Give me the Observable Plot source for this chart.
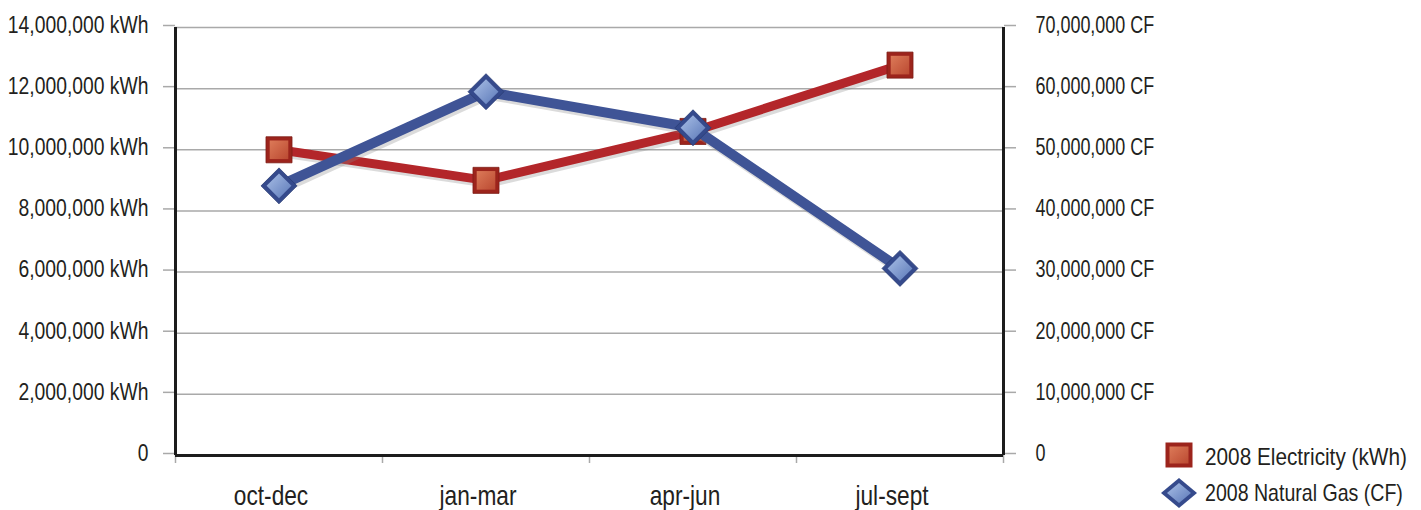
<!DOCTYPE html>
<html>
<head>
<meta charset="utf-8">
<script src="https://cdn.jsdelivr.net/npm/d3@7"></script>
<script src="https://cdn.jsdelivr.net/npm/@observablehq/plot@0.6"></script>
<style>
  html, body { margin: 0; padding: 0; background: #fff; }
  #wrap { position: relative; width: 1421px; height: 510px; font-family: "Liberation Sans", Arial, sans-serif; color: #231f20; }
  .legend-icon { position: absolute; width: 40px; height: 40px; }
  .legend-text { position: absolute; left: 1205px; font-size: 24px; line-height: 1; white-space: nowrap;
                 transform-origin: left center; }
</style>
</head>
<body>
<div id="wrap"></div>
<script>
// Quarterly energy use, 2008
const categories = ["oct-dec", "jan-mar", "apr-jun", "jul-sept"];
const electricityKWh = [10000000, 9000000, 10600000, 12770000];
const naturalGasCF = [44100000, 59500000, 53600000, 30600000];
const kwhTicks = [0, 2000000, 4000000, 6000000, 8000000, 10000000, 12000000, 14000000];
const cfPerKwhTick = 5; // right axis: 70,000,000 CF lines up with 14,000,000 kWh
const seriesNames = ["2008 Electricity (kWh)", "2008 Natural Gas (CF)"];

const rows = categories.map((c, i) => ({
  quarter: c,
  pos: i + 0.5,
  kwh: electricityKWh[i],
  cf: naturalGasCF[i]
}));

const fmt = d3.format(",");
const gasY = d => d.cf / cfPerKwhTick;

const red = "#b3262a", redDark = "#9c241c";
const blue = "#3f5496", blueDark = "#354a8c";
const grid = "#a9a9a9";

const chart = Plot.plot({
  width: 1421,
  height: 510,
  marginLeft: 175,
  marginRight: 418,
  marginTop: 27,
  marginBottom: 55,
  x: {domain: [0, categories.length], axis: null},
  y: {domain: [0, 14000000], axis: null},
  style: {fontFamily: '"Liberation Sans", Arial, sans-serif', fontSize: "23px", color: "#231f20", background: "transparent", overflow: "visible"},
  marks: [
    Plot.ruleY(kwhTicks, {stroke: grid, strokeWidth: 1.5}),
    Plot.axisY({anchor: "left", ticks: kwhTicks, tickSize: 12, tickPadding: 15, stroke: grid, strokeWidth: 1.5, label: null, dy: -2,
      tickFormat: d => d === 0 ? "0" : `${fmt(d)} kWh`}),
    Plot.axisY({anchor: "right", ticks: kwhTicks, tickSize: 12, tickPadding: 20, stroke: grid, strokeWidth: 1.5, label: null, dy: -2,
      tickFormat: d => d === 0 ? "0" : `${fmt(d * cfPerKwhTick)} CF`}),
    Plot.axisX({ticks: d3.range(categories.length + 1), tickSize: 8, stroke: grid, strokeWidth: 1.5, label: null, tickFormat: () => ""}),
    Plot.axisX({ticks: rows.map(d => d.pos), tickSize: 0, tickPadding: 30, label: null, fontSize: 28, dx: -8,
      tickFormat: p => categories[Math.floor(p)]}),
    // frame sides and baseline
    Plot.ruleX([0, categories.length], {y1: 0, y2: 14000000, stroke: "#1c1c1c", strokeWidth: 3}),
    Plot.ruleY([0], {stroke: "#1c1c1c", strokeWidth: 3}),
    // electricity
    Plot.line(rows, {x: "pos", y: "kwh", stroke: "#888", strokeOpacity: 0.3, strokeWidth: 9, dx: 2, dy: 3}),
    Plot.line(rows, {x: "pos", y: "kwh", stroke: red, strokeWidth: 9}),
    Plot.dot(rows, {x: "pos", y: "kwh", symbol: "square", r: 14.7, fill: redDark, stroke: "#7e1d16", strokeWidth: 0.8}),
    Plot.dot(rows, {x: "pos", y: "kwh", symbol: "square", r: 10.5, fill: "url(#elecFace)"}),
    // natural gas
    Plot.line(rows, {x: "pos", y: gasY, stroke: "#888", strokeOpacity: 0.3, strokeWidth: 10, dx: 2, dy: 3}),
    Plot.line(rows, {x: "pos", y: gasY, stroke: blue, strokeWidth: 10}),
    Plot.dot(rows, {x: "pos", y: gasY, symbol: "diamond2", r: 16.2, fill: blueDark, stroke: "#2a3c75", strokeWidth: 0.8}),
    Plot.dot(rows, {x: "pos", y: gasY, symbol: "diamond2", r: 11.2, fill: "url(#gasFace)"})
  ]
});

chart.insertAdjacentHTML("afterbegin", `
<defs>
  <linearGradient id="elecFace" x1="0" y1="0" x2="1" y2="1">
    <stop offset="0" stop-color="#dc7a58"/>
    <stop offset="1" stop-color="#bb4a32"/>
  </linearGradient>
  <linearGradient id="gasFace" x1="0" y1="0" x2="1" y2="1">
    <stop offset="0" stop-color="#a9bfe6"/>
    <stop offset="1" stop-color="#5b78b8"/>
  </linearGradient>
</defs>`);

const wrap = document.getElementById("wrap");
wrap.appendChild(chart);

// condensed lettering: narrow each label around its anchor
function squeeze(group, k) {
  if (!group) return;
  group.querySelectorAll("text").forEach(t => {
    const len = t.getComputedTextLength();
    if (len > 0) {
      t.setAttribute("textLength", (len * k).toFixed(1));
      t.setAttribute("lengthAdjust", "spacingAndGlyphs");
    }
  });
}
const yLabelGroups = chart.querySelectorAll('g[aria-label="y-axis tick label"]');
squeeze(yLabelGroups[0], 0.84);
squeeze(yLabelGroups[1], 0.78);
chart.querySelectorAll('g[aria-label="x-axis tick label"]').forEach(g => squeeze(g, 0.81));

// legend
const icons = [
  {top: 434.5, left: 1158.5, svg: `<rect x="-13.5" y="-12.5" width="27" height="25" fill="${redDark}"/>
    <rect x="-9.5" y="-8.5" width="19" height="17" fill="url(#elecFace)"/>`},
  {top: 473, left: 1159, svg: `<path d="M0,-15L18,0L0,15L-18,0Z" fill="${blueDark}"/>
    <path d="M0,-10L12,0L0,10L-12,0Z" fill="url(#gasFace)"/>`}
];
const textTops = [445, 481];
const textSqueeze = [0.865, 0.815];
icons.forEach((ic, i) => {
  const s = document.createElementNS("http://www.w3.org/2000/svg", "svg");
  s.setAttribute("class", "legend-icon");
  s.setAttribute("viewBox", "-20 -20 40 40");
  s.style.left = ic.left + "px";
  s.style.top = ic.top + "px";
  s.innerHTML = ic.svg;
  wrap.appendChild(s);
  const span = document.createElement("span");
  span.className = "legend-text";
  span.style.top = textTops[i] + "px";
  span.style.transform = `scaleX(${textSqueeze[i]})`;
  span.textContent = seriesNames[i];
  wrap.appendChild(span);
});
</script>
</body>
</html>
